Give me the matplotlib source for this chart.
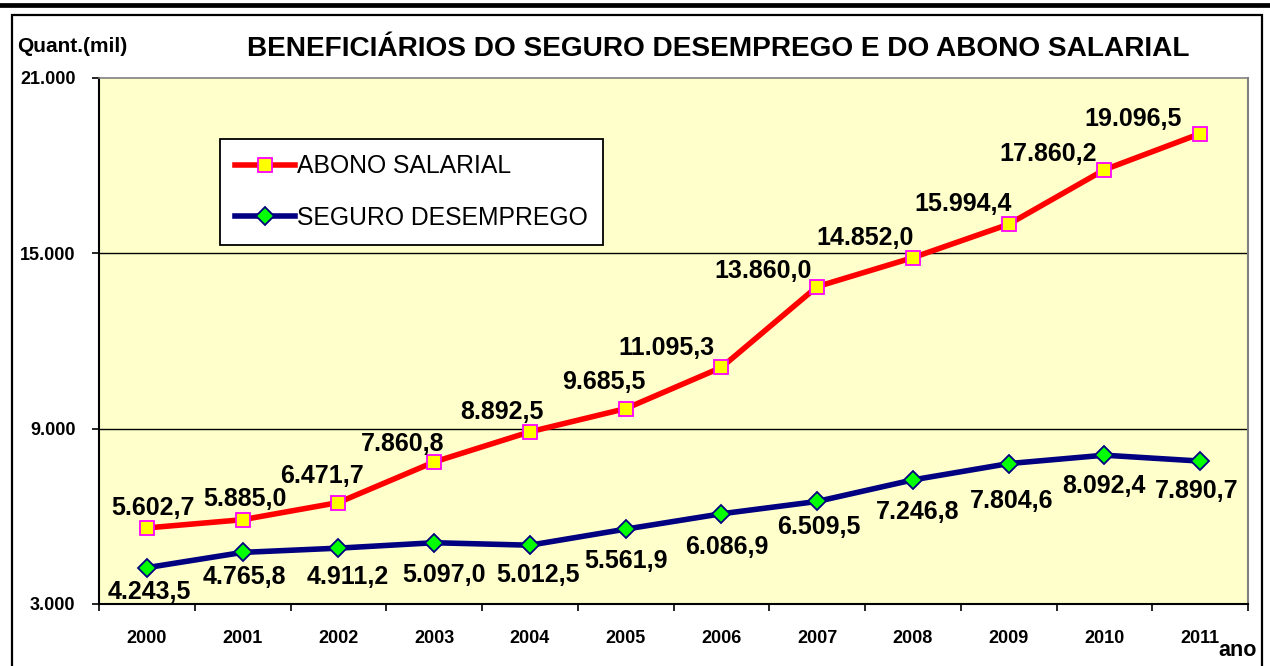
import matplotlib
matplotlib.use("Agg")
import matplotlib.pyplot as plt
from matplotlib.lines import Line2D
from matplotlib.patches import Rectangle

plt.rcParams['font.family'] = ['Liberation Sans', 'DejaVu Sans']

years = ['2000', '2001', '2002', '2003', '2004', '2005',
         '2006', '2007', '2008', '2009', '2010', '2011']
abono = [5602.7, 5885.0, 6471.7, 7860.8, 8892.5, 9685.5,
         11095.3, 13860.0, 14852.0, 15994.4, 17860.2, 19096.5]
seguro = [4243.5, 4765.8, 4911.2, 5097.0, 5012.5, 5561.9,
          6086.9, 6509.5, 7246.8, 7804.6, 8092.4, 7890.7]
yticks = [3000, 9000, 15000, 21000]

title = 'BENEFICIÁRIOS DO SEGURO DESEMPREGO E DO ABONO SALARIAL'
name_abono = 'ABONO SALARIAL'
name_seguro = 'SEGURO DESEMPREGO'

# label offsets in pixels (dx, dy)
off_abono = [(6, 20), (2, 21), (-16, 27), (-32, 18), (-28, 20), (-22, 27),
             (-55, 19), (-54, 16), (-48, 20), (-46, 20), (-56, 16), (-67, 15)]
off_seguro = [(2, -24), (2, -25), (9, -29), (10, -32), (8, -30), (0, -32),
              (5, -33), (2, -26), (5, -32), (3, -37), (0, -31), (-3, -30)]


def fmt(v, dec=1):
    s = f"{v:,.{dec}f}"
    return s.replace(',', 'X').replace('.', ',').replace('X', '.')


W, H = 1270, 666
fig = plt.figure(figsize=(W / 100, H / 100), dpi=100)
fig.patch.set_facecolor('white')

# outer frame
fig.add_artist(Line2D([0, 1], [1 - 5 / H, 1 - 5 / H], color='black', lw=3.4,
                      transform=fig.transFigure))
fig.add_artist(Rectangle((12 / W, -0.01), (1262 - 12) / W, 1 - 15 / H + 0.01,
                         fill=False, edgecolor='black', lw=1.6,
                         transform=fig.transFigure))

ax = fig.add_axes([99 / W, 1 - 604 / H, (1248 - 99) / W, (604 - 78) / H])
ax.set_facecolor('#FFFFCC')

x = list(range(len(years)))
ax.plot(x, abono, color='#FF0000', lw=4.0, marker='s', markersize=10.5,
        markerfacecolor='#FFFF00', markeredgecolor='#FF00FF',
        markeredgewidth=1.3, label=name_abono, zorder=4)
ax.plot(x, seguro, color='#000080', lw=4.0, marker='D', markersize=9.5,
        markerfacecolor='#00FF00', markeredgecolor='#000080',
        markeredgewidth=1.3, label=name_seguro, zorder=4)

for xi, v, (dx, dy) in zip(x, abono, off_abono):
    ax.annotate(fmt(v), (xi, v), xytext=(dx, dy), textcoords='offset pixels',
                ha='center', va='center', fontsize=18, fontweight='bold',
                color='black', zorder=5)
for xi, v, (dx, dy) in zip(x, seguro, off_seguro):
    ax.annotate(fmt(v), (xi, v), xytext=(dx, dy), textcoords='offset pixels',
                ha='center', va='center', fontsize=18, fontweight='bold',
                color='black', zorder=5)

ax.set_xlim(-0.5, len(years) - 0.5)
ax.set_ylim(yticks[0], yticks[-1])

ax.set_xticks(x)
ax.set_xticklabels(years, fontsize=13, fontweight='bold')
ax.set_xticks([i - 0.5 for i in range(len(years) + 1)], minor=True)
ax.tick_params(axis='x', which='major', length=0, pad=19)
ax.tick_params(axis='x', which='minor', length=5, width=1.2, direction='out',
               color='black')

ax.set_yticks(yticks)
ax.set_yticklabels([fmt(t, 0) for t in yticks], fontsize=13, fontweight='bold')
ax.tick_params(axis='y', length=5, width=1.2, direction='out', pad=12)

for t in yticks[1:-1]:
    ax.axhline(t, color='black', lw=1.0, zorder=1)

ax.spines['left'].set_color('black')
ax.spines['left'].set_linewidth(1.5)
ax.spines['bottom'].set_color('black')
ax.spines['bottom'].set_linewidth(1.5)
ax.spines['top'].set_color('#808080')
ax.spines['top'].set_linewidth(1.2)
ax.spines['right'].set_color('#808080')
ax.spines['right'].set_linewidth(1.5)

leg = ax.legend(loc='upper left', bbox_to_anchor=((220 - 99) / (1248 - 99),
                                                   1 - (139 - 78) / (604 - 78)),
                fontsize=17.8, frameon=True, fancybox=False, handlelength=2.4,
                handletextpad=0.08, borderpad=0.62, labelspacing=1.12,
                borderaxespad=0)
leg.get_frame().set_edgecolor('black')
leg.get_frame().set_linewidth(1.3)
leg.get_frame().set_facecolor('white')
leg.get_frame().set_alpha(1)

fig.text(718 / W, 1 - 49 / H, title, ha='center', va='center',
         fontsize=20.2, fontweight='bold')
fig.text(17 / W, 1 - 47 / H, 'Quant.(mil)', ha='left', va='center',
         fontsize=15, fontweight='bold')
fig.text(1238 / W, 1 - 651 / H, 'ano', ha='center', va='center',
         fontsize=15.5, fontweight='bold')

fig.savefig('out.png', dpi=100)
